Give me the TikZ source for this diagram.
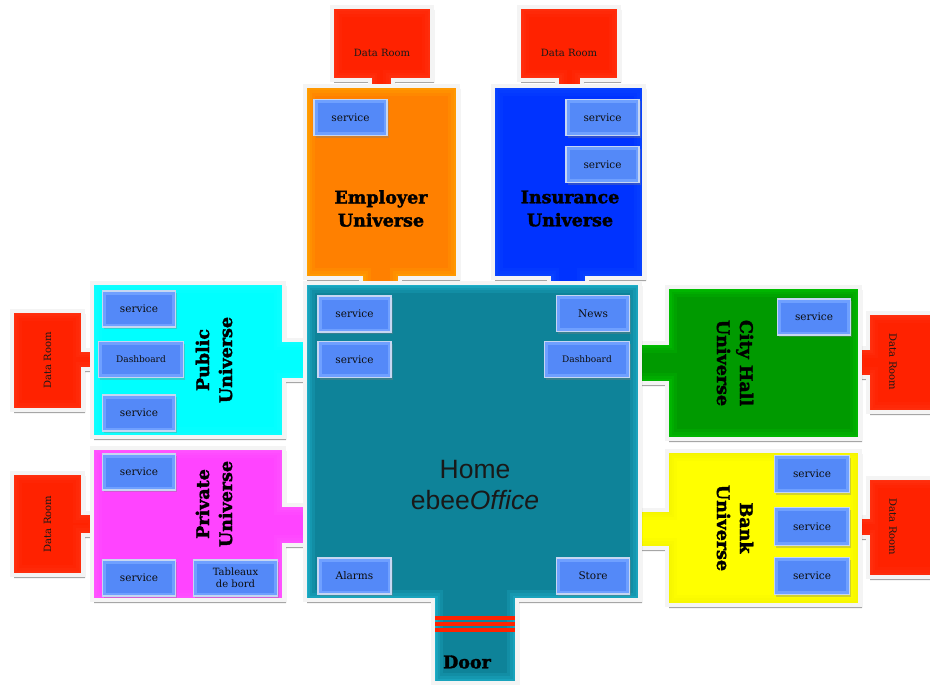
\documentclass[tikz,border=0pt]{standalone}
\usepackage{fontspec}
\setmainfont{DejaVu Serif}
\newfontfamily\homefont{Liberation Sans}
\newfontfamily\heavy{DejaVu Serif Bold}[FakeBold=2]
\usetikzlibrary{shadows}
\definecolor{homeC}{HTML}{0E8399}
\definecolor{homeE}{HTML}{1DAEC8}
\definecolor{orC}{HTML}{FF8000}
\definecolor{orE}{HTML}{FFA000}
\definecolor{blC}{HTML}{0033FF}
\definecolor{blE}{HTML}{0A46FF}
\definecolor{cyC}{HTML}{00FFFF}
\definecolor{cyE}{HTML}{10FFFF}
\definecolor{mgC}{HTML}{FF44FF}
\definecolor{mgE}{HTML}{FF55FF}
\definecolor{grC}{HTML}{009A00}
\definecolor{grE}{HTML}{00BE00}
\definecolor{ylC}{HTML}{FFFF00}
\definecolor{ylE}{HTML}{F4F400}
\definecolor{rdC}{HTML}{FF2200}
\definecolor{rdE}{HTML}{FF3010}
\definecolor{svcEdge}{HTML}{C6D6F2}
\definecolor{svcBev}{HTML}{6FA0FF}
\definecolor{svcIn}{HTML}{5489F8}
\definecolor{frame}{HTML}{F4F4F4}
\newcommand\bldg[3]{%
  \path[drop shadow={shadow xshift=2pt,shadow yshift=-3pt,opacity=.35,fill=black}] #1;
  \draw[black!40, line width=4.8pt, line join=miter] #1;
  \begin{scope}
    \clip #1;
    \fill[#2] #1;
    \draw[#3!25!#2, line width=20pt] #1;
    \draw[#3!50!#2, line width=14pt] #1;
    \draw[#3!75!#2, line width=9pt] #1;
    \draw[#3, line width=5pt] #1;
  \end{scope}
  \draw[frame, line width=3.2pt, line join=miter] #1;
}
\tikzset{
  svc/.style={draw=svcEdge, line width=1.6pt, fill=svcBev, inner sep=0pt,
    drop shadow={shadow xshift=1.5pt,shadow yshift=-2pt,opacity=.35},
    font=\fontsize{10.5}{12}\selectfont, text=black!95, align=center,
    path picture={\fill[svcIn] ([shift={(3.5pt,3.5pt)}]path picture bounding box.south west) rectangle ([shift={(-3.5pt,-3.5pt)}]path picture bounding box.north east);}},
  svcS/.style={svc, minimum width=73pt, minimum height=36pt},
  svcD/.style={svc, minimum width=85pt, minimum height=36pt, font=\fontsize{9}{10}\selectfont},
  drtext/.style={font=\fontsize{10}{12}\selectfont, text=black!90},
  title/.style={font=\heavy\fontsize{17.5}{23}\selectfont, align=center, text=black},
  stripe/.style={draw=rdC, line width=3.6pt},
}
\begin{document}
\begin{tikzpicture}[x=1pt,y=-1pt]
\useasboundingbox (0,0) rectangle (930,685);
\fill[white] (0,0) rectangle (930,685);
% data rooms
\bldg{(332,7) -- (432,7) -- (432,80) -- (393,80) -- (393,94) -- (370,94) -- (370,80) -- (332,80) -- cycle}{rdC}{rdE}
\bldg{(519,7) -- (619,7) -- (619,80) -- (582,80) -- (582,94) -- (557,94) -- (557,80) -- (519,80) -- cycle}{rdC}{rdE}
\bldg{(12,311) -- (83,311) -- (83,350) -- (98,350) -- (98,369) -- (83,369) -- (83,410) -- (12,410) -- cycle}{rdC}{rdE}
\bldg{(12,473) -- (83,473) -- (83,513) -- (98,513) -- (98,535) -- (83,535) -- (83,575) -- (12,575) -- cycle}{rdC}{rdE}
\bldg{(868,313) -- (945,313) -- (945,412) -- (868,412) -- (868,377) -- (854,377) -- (854,348) -- (868,348) -- cycle}{rdC}{rdE}
\bldg{(868,478) -- (945,478) -- (945,577) -- (868,577) -- (868,537) -- (854,537) -- (854,517) -- (868,517) -- cycle}{rdC}{rdE}
\node[drtext] (dr1) at (382,53) {Data Room};
\node[drtext] (dr2) at (569,53) {Data Room};
\node[drtext, rotate=90] (dr3) at (47.5,360.5) {Data Room};
\node[drtext, rotate=90] (dr4) at (47.5,524) {Data Room};
\node[drtext, rotate=-90] (dr5) at (893,362) {Data Room};
\node[drtext, rotate=-90] (dr6) at (893,527) {Data Room};
% universes
\bldg{(305,86) -- (458,86) -- (458,278) -- (400,278) -- (400,294) -- (361,294) -- (361,278) -- (305,278) -- cycle}{orC}{orE}
\bldg{(493,86) -- (644,86) -- (644,278) -- (587,278) -- (587,294) -- (549,294) -- (549,278) -- (493,278) -- cycle}{blC}{blE}
\bldg{(92,283) -- (284,283) -- (284,340) -- (314,340) -- (314,380) -- (284,380) -- (284,437) -- (92,437) -- cycle}{cyC}{cyE}
\bldg{(92,448) -- (284,448) -- (284,505) -- (314,505) -- (314,545) -- (284,545) -- (284,600) -- (92,600) -- cycle}{mgC}{mgE}
\bldg{(667,287) -- (860,287) -- (860,439) -- (667,439) -- (667,383) -- (630,383) -- (630,343) -- (667,343) -- cycle}{grC}{grE}
\bldg{(667,451) -- (860,451) -- (860,605) -- (667,605) -- (667,548) -- (630,548) -- (630,510) -- (667,510) -- cycle}{ylC}{ylE}
% home
\bldg{(305,283) -- (640,283) -- (640,600) -- (517,600) -- (517,683) -- (433,683) -- (433,600) -- (305,600) -- cycle}{homeC}{homeE}
\draw[stripe] (435,617.8) -- (515,617.8);
\draw[stripe] (435,623.7) -- (515,623.7);
\draw[stripe] (435,629.8) -- (515,629.8);
\node[font=\heavy\fontsize{17.5}{20}\selectfont] (door) at (467,662) {Door};
\node[font=\homefont\fontsize{26.5}{31}\selectfont, align=center, text=black!90] (home) at (475,485) {Home\\ebee\textit{Office}};
% titles
\node[title] (emp) at (381,208.5) {Employer\\Universe};
\node[title] (ins) at (570,208.5) {Insurance\\Universe};
\node[title, rotate=90] (pub) at (214,360) {Public\\Universe};
\node[title, rotate=90] (pri) at (214,504) {Private\\Universe};
\node[title, rotate=-90] (city) at (735,363) {City Hall\\Universe};
\node[title, rotate=-90] (bank) at (735,528) {Bank\\Universe};
% services
\node[svcS] (es) at (350.5,117.5) {service};
\node[svcS] (is1) at (602.5,117.5) {service};
\node[svcS] (is2) at (602.5,164.5) {service};
\node[svcS] (hs1) at (354.5,314) {service};
\node[svcS] (hs2) at (354.5,359.5) {service};
\node[svcS] (hnews) at (593,313.5) {News};
\node[svcD] (hdash) at (587,359.5) {Dashboard};
\node[svcS] (halarm) at (354.5,576) {Alarms};
\node[svcS] (hstore) at (593,576) {Store};
\node[svcS] (ps1) at (139,309) {service};
\node[svcD] (pdash) at (141,359.5) {Dashboard};
\node[svcS] (ps3) at (139,413) {service};
\node[svcS] (vs1) at (139,472) {service};
\node[svcS] (vs2) at (139,578) {service};
\node[svcS, minimum width=84pt, font=\fontsize{10}{11.5}\selectfont] (vtab) at (235.5,578) {Tableaux\\de bord};
\node[svcS] (cs) at (814,317) {service};
\node[svcS, minimum width=75pt, minimum height=37pt] (bs1) at (812,474) {service};
\node[svcS, minimum width=75pt, minimum height=38pt] (bs2) at (812,526.5) {service};
\node[svcS, minimum width=75pt, minimum height=37pt] (bs3) at (812,576) {service};
\end{tikzpicture}
\end{document}
